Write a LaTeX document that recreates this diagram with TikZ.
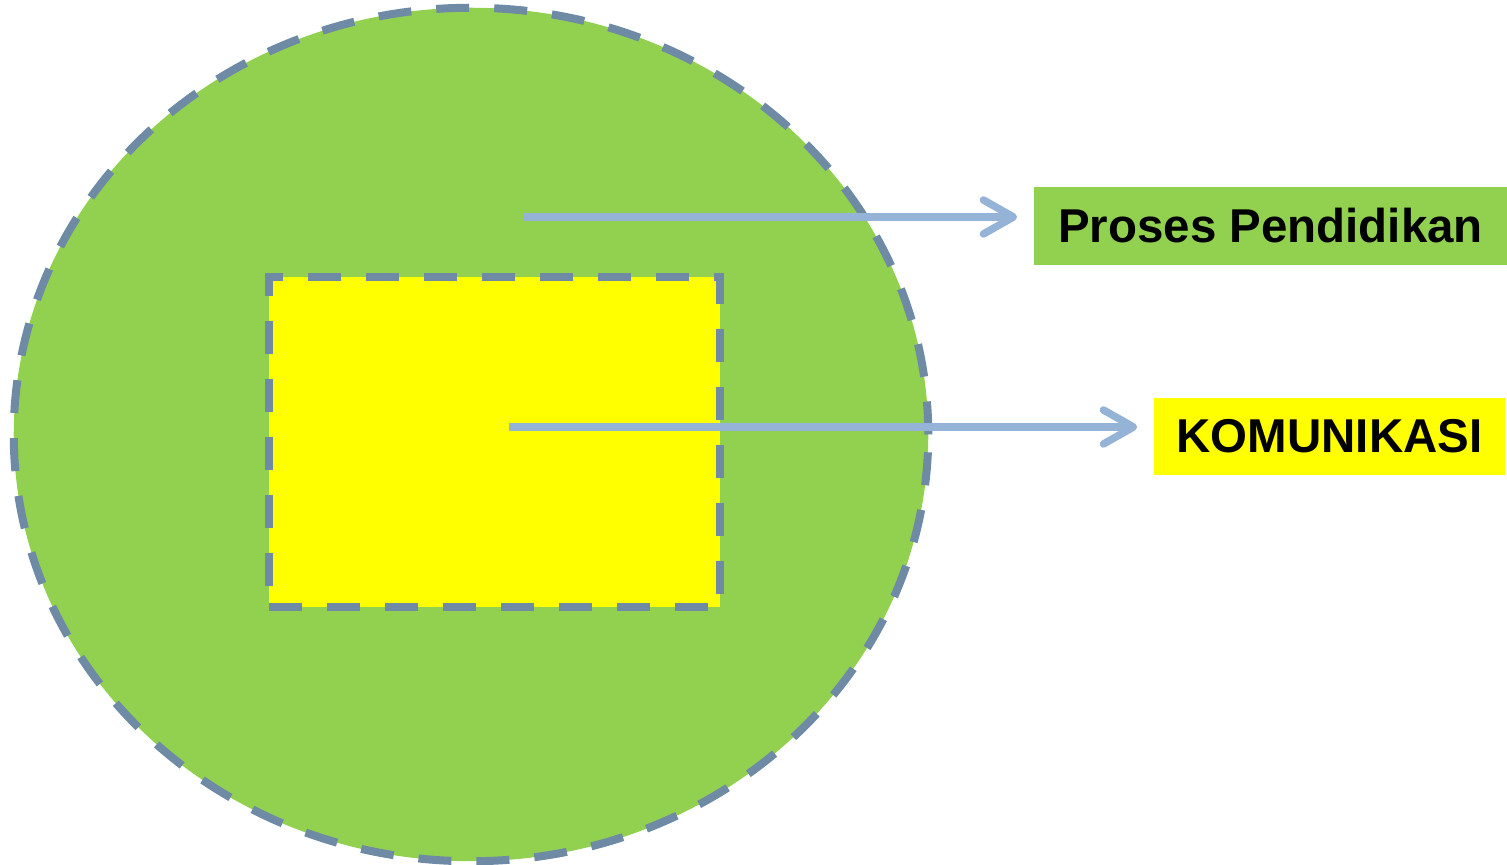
\documentclass[tikz,border=0pt]{standalone}
\usepackage{fontspec}
\setmainfont{Liberation Sans}
\usetikzlibrary{shapes.geometric,arrows.meta}
\definecolor{leafgreen}{HTML}{92D050}
\definecolor{brightyellow}{HTML}{FFFF00}
\definecolor{slateedge}{HTML}{6E8AA4}
\definecolor{skyarrow}{HTML}{95B3D7}
\tikzset{
  dashedge/.style  = {draw=slateedge, line width=0.08cm,
                      dash pattern=on 0.33cm off 0.25cm},
  labelbox/.style  = {shape=rectangle, inner sep=0pt, align=center,
                      font=\fontsize{13.5}{16}\selectfont\bfseries},
  pointer/.style   = {draw=skyarrow, line width=0.075cm,
                      -{Straight Barb[length=0.3cm, width=0.34cm, line width=0.075cm, round]},
                      shorten >=0.16cm}
}
\begin{document}
\begin{tikzpicture}
  [
    x = 0.01cm,
    y = -0.01cm
  ]
  \useasboundingbox (0,0) rectangle (1507,865);
  % outer area and inner area
  \node (outer) [ellipse, fill=leafgreen, dashedge, inner sep=0pt,
                 minimum width=9.14cm, minimum height=8.53cm] at (471,434.5) {};
  \node (inner) [rectangle, fill=brightyellow, dashedge, inner sep=0pt,
                 minimum width=4.51cm, minimum height=3.30cm] at (494.5,442) {};
  % labels
  \node (proses) [labelbox, fill=leafgreen, minimum width=4.73cm,
                  minimum height=0.78cm] at (1270.5,226) {Proses Pendidikan};
  \node (komunikasi) [labelbox, fill=brightyellow, minimum width=3.51cm,
                      minimum height=0.77cm] at (1329.5,436.5) {KOMUNIKASI};
  % pointers
  \coordinate (from proses) at (523,217);
  \coordinate (from komunikasi) at (509,427);
  \draw [pointer] (from proses) -- (from proses -| proses.west);
  \draw [pointer] (from komunikasi) -- (from komunikasi -| komunikasi.west);
\end{tikzpicture}
\end{document}
